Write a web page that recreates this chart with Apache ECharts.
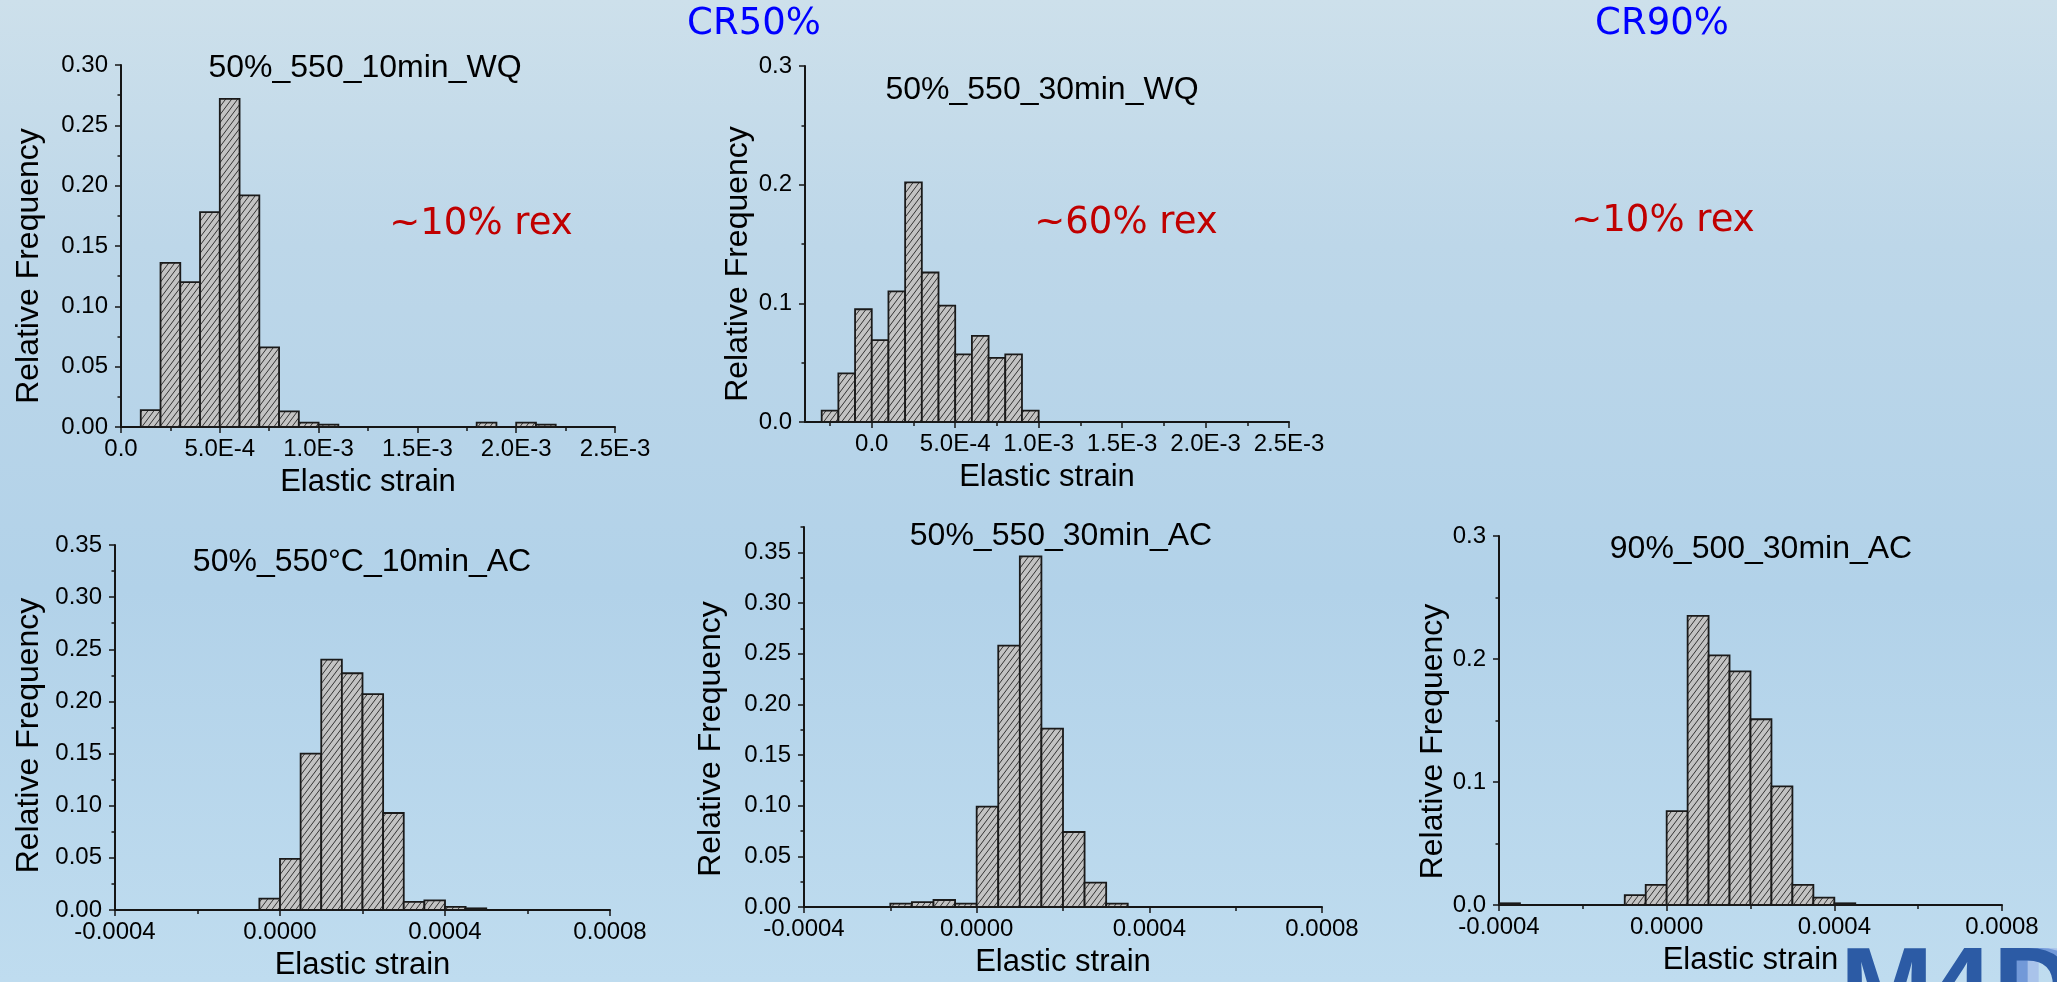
<!DOCTYPE html>
<html><head><meta charset="utf-8">
<script src="https://cdn.jsdelivr.net/npm/echarts@6/dist/echarts.min.js"></script>
<style>html,body{margin:0;padding:0;background:#bcd6e8;} #c{width:2057px;height:982px;}</style>
</head><body><div id="c"></div>
<script>
// ---------------- data ----------------
// Panel 1: 50%_550_10min_WQ  (bin width 1E-4)
const wq10BinLeft = [1e-4, 2e-4, 3e-4, 4e-4, 5e-4, 6e-4, 7e-4, 8e-4, 9e-4, 10e-4, 18e-4, 20e-4, 21e-4];
const wq10Freq    = [0.014, 0.136, 0.120, 0.178, 0.272, 0.192, 0.066, 0.013, 0.0036, 0.0019, 0.0036, 0.0036, 0.0019];
// Panel 2: 50%_550_30min_WQ  (bin width 1E-4)
const wq30BinLeft = [-3e-4, -2e-4, -1e-4, 0, 1e-4, 2e-4, 3e-4, 4e-4, 5e-4, 6e-4, 7e-4, 8e-4, 9e-4];
const wq30Freq    = [0.0096, 0.041, 0.095, 0.069, 0.110, 0.202, 0.126, 0.098, 0.057, 0.0725, 0.054, 0.057, 0.0096];
// Panel 3: 50%_550°C_10min_AC  (bin width 5E-5)
const ac10BinLeft = [-0.5e-4, 0, 0.5e-4, 1e-4, 1.5e-4, 2e-4, 2.5e-4, 3e-4, 3.5e-4, 4e-4, 4.5e-4];
const ac10Freq    = [0.011, 0.049, 0.150, 0.240, 0.227, 0.207, 0.093, 0.0077, 0.0093, 0.003, 0.0016];
// Panel 4: 50%_550_30min_AC  (bin width 5E-5)
const ac30BinLeft = [-2e-4, -1.5e-4, -1e-4, -0.5e-4, 0, 0.5e-4, 1e-4, 1.5e-4, 2e-4, 2.5e-4, 3e-4];
const ac30Freq    = [0.0033, 0.0049, 0.0069, 0.0033, 0.099, 0.258, 0.346, 0.176, 0.074, 0.024, 0.0033];
// Panel 5: 90%_500_30min_AC  (bin width 5E-5)
const ac90BinLeft = [-4e-4, -1e-4, -0.5e-4, 0, 0.5e-4, 1e-4, 1.5e-4, 2e-4, 2.5e-4, 3e-4, 3.5e-4, 4e-4];
const ac90Freq    = [0.0014, 0.0081, 0.0163, 0.0764, 0.235, 0.203, 0.190, 0.151, 0.0965, 0.0163, 0.006, 0.0014];

const wqBinWidth = 1e-4;
const acBinWidth = 5e-5;

// tick values and labels
const wqXTicks      = [0, 5e-4, 1e-3, 1.5e-3, 2e-3, 2.5e-3];
const wqXTickLabels = ['0.0', '5.0E-4', '1.0E-3', '1.5E-3', '2.0E-3', '2.5E-3'];
const wqXMinorTicks = [-2.5e-4, 2.5e-4, 7.5e-4, 1.25e-3, 1.75e-3, 2.25e-3];
const acXTicks      = [-4e-4, 0, 4e-4, 8e-4];
const acXTickLabels = ['-0.0004', '0.0000', '0.0004', '0.0008'];
const acXMinorTicks = [-2e-4, 2e-4, 6e-4];

const y30fTicks      = [0, 0.05, 0.10, 0.15, 0.20, 0.25, 0.30];
const y30fTickLabels = ['0.00', '0.05', '0.10', '0.15', '0.20', '0.25', '0.30'];
const y30fMinorTicks = [0.025, 0.075, 0.125, 0.175, 0.225, 0.275];
const y3Ticks        = [0, 0.1, 0.2, 0.3];
const y3TickLabels   = ['0.0', '0.1', '0.2', '0.3'];
const y3MinorTicks   = [0.05, 0.15, 0.25];
const y35Ticks       = [0, 0.05, 0.10, 0.15, 0.20, 0.25, 0.30, 0.35];
const y35TickLabels  = ['0.00', '0.05', '0.10', '0.15', '0.20', '0.25', '0.30', '0.35'];
const y35MinorTicks  = [0.025, 0.075, 0.125, 0.175, 0.225, 0.275, 0.325];
const y375MinorTicks = [0.025, 0.075, 0.125, 0.175, 0.225, 0.275, 0.325, 0.375];

const panelTitles = ['50%_550_10min_WQ', '50%_550_30min_WQ', '50%_550°C_10min_AC', '50%_550_30min_AC', '90%_500_30min_AC'];

// ---------------- chart ----------------
function makeHatch() {
  const w = 6, h = 8;
  const c = document.createElement('canvas');
  c.width = w; c.height = h;
  const g = c.getContext('2d');
  g.fillStyle = '#c3c3c3';
  g.fillRect(0, 0, w, h);
  g.strokeStyle = '#333333';
  g.lineWidth = 1;
  g.beginPath();
  for (const dx of [-w, 0, w]) { g.moveTo(dx, h); g.lineTo(dx + w, 0); }
  g.stroke();
  return c;
}
const hatch = makeHatch();

const FONT = 'Liberation Sans';
const AXC = '#151515';

function lookup(v, ticks, labels) {
  for (let i = 0; i < ticks.length; i++) if (Math.abs(ticks[i] - v) < 1e-12) return labels[i];
  return '';
}

const panels = [
  { grid: {left: 121, top: 65, width: 494, height: 362},
    xMin: 0, xMax: 2.5e-3, xT: wqXTicks, xL: wqXTickLabels, xM: wqXMinorTicks.filter(v => v > 0),
    yMax: 0.30, yT: y30fTicks, yL: y30fTickLabels, yM: y30fMinorTicks,
    left: wq10BinLeft, freq: wq10Freq, bw: wqBinWidth, yNameGap: 76, yShift: 20 },
  { grid: {left: 805, top: 66, width: 484, height: 356},
    xMin: -4e-4, xMax: 2.5e-3, xT: wqXTicks, xL: wqXTickLabels, xM: wqXMinorTicks,
    yMax: 0.3, yT: y3Ticks, yL: y3TickLabels, yM: y3MinorTicks,
    left: wq30BinLeft, freq: wq30Freq, bw: wqBinWidth, yNameGap: 51, yShift: 20 },
  { grid: {left: 115, top: 545, width: 495, height: 365},
    xMin: -4e-4, xMax: 8e-4, xT: acXTicks, xL: acXTickLabels, xM: acXMinorTicks,
    yMax: 0.35, yT: y35Ticks, yL: y35TickLabels, yM: y35MinorTicks,
    left: ac10BinLeft, freq: ac10Freq, bw: acBinWidth, yNameGap: 70, yShift: 8 },
  { grid: {left: 804, top: 527, width: 518, height: 380},
    xMin: -4e-4, xMax: 8e-4, xT: acXTicks, xL: acXTickLabels, xM: acXMinorTicks,
    yMax: 0.375, yT: y35Ticks, yL: y35TickLabels, yM: y375MinorTicks,
    left: ac30BinLeft, freq: ac30Freq, bw: acBinWidth, yNameGap: 77, yShift: 22 },
  { grid: {left: 1499, top: 536, width: 503, height: 369},
    xMin: -4e-4, xMax: 8e-4, xT: acXTicks, xL: acXTickLabels, xM: acXMinorTicks,
    yMax: 0.3, yT: y3Ticks, yL: y3TickLabels, yM: y3MinorTicks,
    left: ac90BinLeft, freq: ac90Freq, bw: acBinWidth, yNameGap: 48, yShift: 21 }
];

const grids = [], xAxes = [], yAxes = [], series = [];
panels.forEach((p, i) => {
  grids.push(Object.assign({containLabel: false}, p.grid));
  const labelStyle = {fontSize: 24, fontFamily: FONT, color: '#000'};
  const nameStyle = {fontSize: 31, fontFamily: FONT, color: '#000'};
  xAxes.push({
    gridIndex: i, type: 'value', min: p.xMin, max: p.xMax, position: 'bottom',
    axisLine: {show: true, onZero: false, lineStyle: {color: AXC, width: 2}},
    axisTick: {show: true, customValues: p.xT, length: 6, lineStyle: {color: AXC, width: 1.5}},
    axisLabel: Object.assign({customValues: p.xT, margin: 10, formatter: v => lookup(v, p.xT, p.xL)}, labelStyle),
    splitLine: {show: false},
    name: 'Elastic strain', nameLocation: 'middle', nameGap: 40, nameTextStyle: nameStyle
  });
  xAxes.push({
    gridIndex: i, type: 'value', min: p.xMin, max: p.xMax, position: 'bottom',
    axisLine: {show: false, onZero: false},
    axisTick: {show: true, customValues: p.xM, length: 4, lineStyle: {color: AXC, width: 1.5}},
    axisLabel: {show: false}, splitLine: {show: false}
  });
  yAxes.push({
    gridIndex: i, type: 'value', min: 0, max: p.yMax, position: 'left',
    axisLine: {show: true, onZero: false, lineStyle: {color: AXC, width: 2}},
    axisTick: {show: true, customValues: p.yT, length: 6, lineStyle: {color: AXC, width: 1.5}},
    axisLabel: Object.assign({customValues: p.yT, margin: 13, formatter: v => lookup(v, p.yT, p.yL)}, labelStyle),
    splitLine: {show: false},
    name: 'Relative Frequency', nameLocation: 'middle', nameRotate: 90, nameGap: p.yNameGap,
    nameTextStyle: Object.assign({}, nameStyle, {fontSize: 32, padding: [0, 2 * p.yShift, 0, 0]})
  });
  yAxes.push({
    gridIndex: i, type: 'value', min: 0, max: p.yMax, position: 'left',
    axisLine: {show: false, onZero: false},
    axisTick: {show: true, customValues: p.yM, length: 3.5, lineStyle: {color: AXC, width: 1.5}},
    axisLabel: {show: false}, splitLine: {show: false}
  });
  const data = p.left.map((l, k) => [l, l + p.bw, p.freq[k]]);
  series.push({
    type: 'custom', name: panelTitles[i], xAxisIndex: 2 * i, yAxisIndex: 2 * i,
    encode: {x: [0, 1], y: 2}, data: data, clip: false, z: 1,
    renderItem: function (params, api) {
      const a = api.coord([api.value(0), api.value(2)]);
      const b = api.coord([api.value(1), 0]);
      return {
        type: 'rect',
        shape: {x: a[0], y: a[1], width: b[0] - a[0], height: b[1] - a[1]},
        style: {fill: {image: hatch, repeat: 'repeat'}, stroke: '#1a1a1a', lineWidth: 1.8}
      };
    }
  });
});

function txt(x, y, text, font, fill, align) {
  return {type: 'text', x: x, y: y, z: 10,
    style: {text: text, font: font, fill: fill, align: align || 'center', verticalAlign: 'middle'}};
}
const titleFont = '32px "Liberation Sans"';
const bigFont = '37px "DejaVu Sans"';
const logoFont = 'bold 112px "Liberation Sans"';

const graphics = [
  txt(754, 24, 'CR50%', bigFont, '#0000ff'),
  txt(1662, 24, 'CR90%', bigFont, '#0000ff'),
  txt(481, 224, '~10% rex', bigFont, '#c00000'),
  txt(1126, 223, '~60% rex', bigFont, '#c00000'),
  txt(1663, 221, '~10% rex', bigFont, '#c00000'),
  txt(365, 68, panelTitles[0], titleFont, '#000'),
  txt(1042, 90, panelTitles[1], titleFont, '#000'),
  txt(362, 562, panelTitles[2], titleFont, '#000'),
  txt(1061, 536, panelTitles[3], titleFont, '#000'),
  txt(1761, 549, panelTitles[4], titleFont, '#000'),
  // logo (partly cut by the bottom edge)
  txt(2015, 994, 'D', logoFont, '#a9c3ea', 'left'),
  txt(2004, 994, 'D', logoFont, '#7299d8', 'left'),
  txt(1840, 994, 'M', logoFont, '#2c5ba5', 'left'),
  txt(1930, 994, '4', logoFont, '#2c5ba5', 'left'),
  txt(1993, 994, 'D', logoFont, '#2c5ba5', 'left')
];

const chart = echarts.init(document.getElementById('c'), null, {renderer: 'canvas'});
chart.setOption({
  animation: false,
  backgroundColor: {type: 'linear', x: 0, y: 0, x2: 0, y2: 1,
    colorStops: [{offset: 0, color: '#cde0eb'}, {offset: 0.25, color: '#bdd7e9'},
                 {offset: 0.6, color: '#b2d2e9'}, {offset: 1, color: '#bfdcef'}]},
  grid: grids, xAxis: xAxes, yAxis: yAxes, series: series, graphic: graphics
});
</script></body></html>
